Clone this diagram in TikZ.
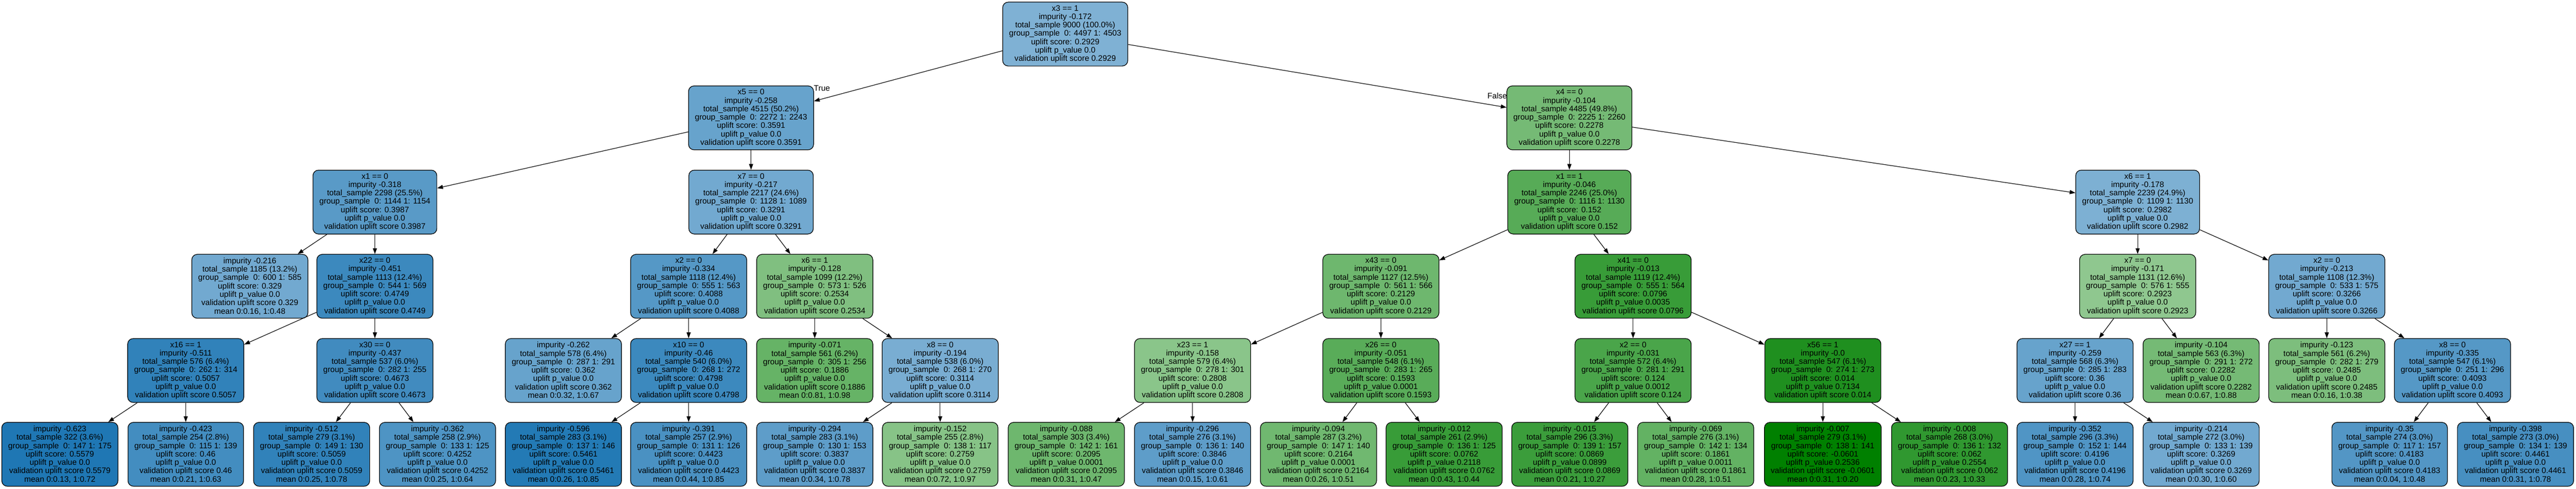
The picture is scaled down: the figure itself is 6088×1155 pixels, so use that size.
\documentclass[tikz,border=0pt]{standalone}
\usepackage{fontspec}
\setmainfont{Liberation Sans}
\usetikzlibrary{arrows.meta}
\definecolor{tb}{HTML}{1F77B4}
\definecolor{tg}{HTML}{008000}
\newcommand{\ITxt}[7]{#1\\impurity #2\\total\_sample #3\\group\_sample\ \ 0: #4 1: #5\\uplift score: #6\\uplift p\_value #7\\validation uplift score #6}
\newcommand{\LTxt}[7]{impurity #1\\total\_sample #2\\group\_sample\ \ 0: #3 1: #4\\uplift score: #5\\uplift p\_value #6\\validation uplift score #5\\mean #7}
\begin{document}
\begin{tikzpicture}[x=0.5pt,y=-0.5pt,
  tn/.style={draw=black,line width=0.75pt,rounded corners=6.5pt,align=center,
    font=\fontsize{9.45pt}{9.9pt}\selectfont,inner xsep=7.6pt,inner ysep=2pt,minimum height=75.5pt},
  nb/.style={tn,fill=tb!#1!white},
  ng/.style={tn,fill=tg!#1!white},
  conn/.style={line width=0.7pt,-{Triangle[length=6.8pt,width=4.8pt]}},
  lbl/.style={font=\fontsize{9.45pt}{9.9pt}\selectfont,inner sep=0pt}]
\fill[white] (0,0) rectangle (6088,1155);
\useasboundingbox (0,0) rectangle (6088,1155);
% level 0
\node[nb=57] (root) at (2517.5,80.5) {\ITxt{x3 == 1}{-0.172}{9000 (100.0\%)}{4497}{4503}{0.2929}{0.0}};
% level 1
\node[nb=68] (x5) at (1775,278.5) {\ITxt{x5 == 0}{-0.258}{4515 (50.2\%)}{2272}{2243}{0.3591}{0.0}};
\node[ng=54] (x4) at (3709,278.5) {\ITxt{x4 == 0}{-0.104}{4485 (49.8\%)}{2225}{2260}{0.2278}{0.0}};
% level 2
\node[nb=74] (x1a) at (886,477.5) {\ITxt{x1 == 0}{-0.318}{2298 (25.5\%)}{1144}{1154}{0.3987}{0.0}};
\node[nb=63] (x7a) at (1775,477.5) {\ITxt{x7 == 0}{-0.217}{2217 (24.6\%)}{1128}{1089}{0.3291}{0.0}};
\node[ng=66] (x1b) at (3709,477.5) {\ITxt{x1 == 1}{-0.046}{2246 (25.0\%)}{1116}{1130}{0.152}{0.0}};
\node[nb=58] (x6a) at (5052,477.5) {\ITxt{x6 == 1}{-0.178}{2239 (24.9\%)}{1109}{1130}{0.2982}{0.0}};
% level 3
\node[nb=63] (l216) at (590.5,676.5) {\LTxt{-0.216}{1185 (13.2\%)}{600}{585}{0.329}{0.0}{0:0.16, 1:0.48}};
\node[nb=87] (x22) at (886,676.5) {\ITxt{x22 == 0}{-0.451}{1113 (12.4\%)}{544}{569}{0.4749}{0.0}};
\node[nb=76] (x2a) at (1627.5,676.5) {\ITxt{x2 == 0}{-0.334}{1118 (12.4\%)}{555}{563}{0.4088}{0.0}};
\node[ng=50] (x6b) at (1925.5,676.5) {\ITxt{x6 == 1}{-0.128}{1099 (12.2\%)}{573}{526}{0.2534}{0.0}};
\node[ng=57] (x43) at (3263.5,676.5) {\ITxt{x43 == 0}{-0.091}{1127 (12.5\%)}{561}{566}{0.2129}{0.0}};
\node[ng=78] (x41) at (3859.5,676.5) {\ITxt{x41 == 0}{-0.013}{1119 (12.4\%)}{555}{564}{0.0796}{0.0035}};
\node[ng=44] (x7b) at (5052,676.5) {\ITxt{x7 == 0}{-0.171}{1131 (12.6\%)}{576}{555}{0.2923}{0.0}};
\node[nb=63] (x2b) at (5499,676.5) {\ITxt{x2 == 0}{-0.213}{1108 (12.3\%)}{533}{575}{0.3266}{0.0}};
% level 4
\node[nb=92] (x16) at (439,875.5) {\ITxt{x16 == 1}{-0.511}{576 (6.4\%)}{262}{314}{0.5057}{0.0}};
\node[nb=85] (x30) at (886,875.5) {\ITxt{x30 == 0}{-0.437}{537 (6.0\%)}{282}{255}{0.4673}{0.0}};
\node[nb=68] (l262) at (1331.5,875.5) {\LTxt{-0.262}{578 (6.4\%)}{287}{291}{0.362}{0.0}{0:0.32, 1:0.67}};
\node[nb=87] (x10) at (1627.5,875.5) {\ITxt{x10 == 0}{-0.46}{540 (6.0\%)}{268}{272}{0.4798}{0.0}};
\node[ng=60] (l071) at (1925.5,875.5) {\LTxt{-0.071}{561 (6.2\%)}{305}{256}{0.1886}{0.0}{0:0.81, 1:0.98}};
\node[nb=60] (x8a) at (2222,875.5) {\ITxt{x8 == 0}{-0.194}{538 (6.0\%)}{268}{270}{0.3114}{0.0}};
\node[ng=46] (x23) at (2818.5,875.5) {\ITxt{x23 == 1}{-0.158}{579 (6.4\%)}{278}{301}{0.2808}{0.0}};
\node[ng=65] (x26) at (3263.5,875.5) {\ITxt{x26 == 0}{-0.051}{548 (6.1\%)}{283}{265}{0.1593}{0.0001}};
\node[ng=71] (x2c) at (3859.5,875.5) {\ITxt{x2 == 0}{-0.031}{572 (6.4\%)}{281}{291}{0.124}{0.0012}};
\node[ng=88] (x56) at (4308,875.5) {\ITxt{x56 == 1}{-0.0}{547 (6.1\%)}{274}{273}{0.014}{0.7134}};
\node[nb=68] (x27) at (4904,875.5) {\ITxt{x27 == 1}{-0.259}{568 (6.3\%)}{285}{283}{0.36}{0.0}};
\node[ng=54] (l104) at (5202,875.5) {\LTxt{-0.104}{563 (6.3\%)}{291}{272}{0.2282}{0.0}{0:0.67, 1:0.88}};
\node[ng=51] (l123) at (5499,875.5) {\LTxt{-0.123}{561 (6.2\%)}{282}{279}{0.2485}{0.0}{0:0.16, 1:0.38}};
\node[nb=76] (x8b) at (5796,875.5) {\ITxt{x8 == 0}{-0.335}{547 (6.1\%)}{251}{296}{0.4093}{0.0}};
% level 5
\node[nb=100] (l623) at (141.5,1073.5) {\LTxt{-0.623}{322 (3.6\%)}{147}{175}{0.5579}{0.0}{0:0.13, 1:0.72}};
\node[nb=84] (l423) at (439,1073.5) {\LTxt{-0.423}{254 (2.8\%)}{115}{139}{0.46}{0.0}{0:0.21, 1:0.63}};
\node[nb=92] (l512) at (736.5,1073.5) {\LTxt{-0.512}{279 (3.1\%)}{149}{130}{0.5059}{0.0}{0:0.25, 1:0.78}};
\node[nb=79] (l362) at (1034,1073.5) {\LTxt{-0.362}{258 (2.9\%)}{133}{125}{0.4252}{0.0}{0:0.25, 1:0.64}};
\node[nb=98] (l596) at (1331.5,1073.5) {\LTxt{-0.596}{283 (3.1\%)}{137}{146}{0.5461}{0.0}{0:0.26, 1:0.85}};
\node[nb=81] (l391) at (1627.5,1073.5) {\LTxt{-0.391}{257 (2.9\%)}{131}{126}{0.4423}{0.0}{0:0.44, 1:0.85}};
\node[nb=72] (l294) at (1925.5,1073.5) {\LTxt{-0.294}{283 (3.1\%)}{130}{153}{0.3837}{0.0}{0:0.34, 1:0.78}};
\node[ng=47] (l152) at (2222,1073.5) {\LTxt{-0.152}{255 (2.8\%)}{138}{117}{0.2759}{0.0}{0:0.72, 1:0.97}};
\node[ng=57] (l088) at (2520,1073.5) {\LTxt{-0.088}{303 (3.4\%)}{142}{161}{0.2095}{0.0001}{0:0.31, 1:0.47}};
\node[nb=72] (l296) at (2818.5,1073.5) {\LTxt{-0.296}{276 (3.1\%)}{136}{140}{0.3846}{0.0}{0:0.15, 1:0.61}};
\node[ng=56] (l094) at (3116,1073.5) {\LTxt{-0.094}{287 (3.2\%)}{147}{140}{0.2164}{0.0001}{0:0.26, 1:0.51}};
\node[ng=78] (l012) at (3413,1073.5) {\LTxt{-0.012}{261 (2.9\%)}{136}{125}{0.0762}{0.2118}{0:0.43, 1:0.44}};
\node[ng=77] (l015) at (3710,1073.5) {\LTxt{-0.015}{296 (3.3\%)}{139}{157}{0.0869}{0.0899}{0:0.21, 1:0.27}};
\node[ng=61] (l069) at (4007.5,1073.5) {\LTxt{-0.069}{276 (3.1\%)}{142}{134}{0.1861}{0.0011}{0:0.28, 1:0.51}};
\node[ng=100] (l007) at (4308,1073.5) {\LTxt{-0.007}{279 (3.1\%)}{138}{141}{-0.0601}{0.2536}{0:0.31, 1:0.20}};
\node[ng=81] (l008) at (4607.5,1073.5) {\LTxt{-0.008}{268 (3.0\%)}{136}{132}{0.062}{0.2554}{0:0.23, 1:0.33}};
\node[nb=78] (l352) at (4904,1073.5) {\LTxt{-0.352}{296 (3.3\%)}{152}{144}{0.4196}{0.0}{0:0.28, 1:0.74}};
\node[nb=63] (l214) at (5202,1073.5) {\LTxt{-0.214}{272 (3.0\%)}{133}{139}{0.3269}{0.0}{0:0.30, 1:0.60}};
\node[nb=77] (l350) at (5647.5,1073.5) {\LTxt{-0.35}{274 (3.0\%)}{117}{157}{0.4183}{0.0}{0:0.04, 1:0.48}};
\node[nb=82] (l398) at (5945,1073.5) {\LTxt{-0.398}{273 (3.0\%)}{134}{139}{0.4461}{0.0}{0:0.31, 1:0.78}};
% labels
\node[lbl,anchor=west] (tl) at (1923,209) {True};
\node[lbl,anchor=east] (fl) at (3562,226) {False};
% edges
\draw[conn] (root) -- (x5);
\draw[conn] (root) -- (x4);
\draw[conn] (x5) -- (x1a);
\draw[conn] (x5) -- (x7a);
\draw[conn] (x1a) -- (l216);
\draw[conn] (x1a) -- (x22);
\draw[conn] (x22) -- (x16);
\draw[conn] (x22) -- (x30);
\draw[conn] (x16) -- (l623);
\draw[conn] (x16) -- (l423);
\draw[conn] (x30) -- (l512);
\draw[conn] (x30) -- (l362);
\draw[conn] (x7a) -- (x2a);
\draw[conn] (x7a) -- (x6b);
\draw[conn] (x2a) -- (l262);
\draw[conn] (x2a) -- (x10);
\draw[conn] (x10) -- (l596);
\draw[conn] (x10) -- (l391);
\draw[conn] (x6b) -- (l071);
\draw[conn] (x6b) -- (x8a);
\draw[conn] (x8a) -- (l294);
\draw[conn] (x8a) -- (l152);
\draw[conn] (x4) -- (x1b);
\draw[conn] (x4) -- (x6a);
\draw[conn] (x1b) -- (x43);
\draw[conn] (x1b) -- (x41);
\draw[conn] (x43) -- (x23);
\draw[conn] (x43) -- (x26);
\draw[conn] (x23) -- (l088);
\draw[conn] (x23) -- (l296);
\draw[conn] (x26) -- (l094);
\draw[conn] (x26) -- (l012);
\draw[conn] (x41) -- (x2c);
\draw[conn] (x41) -- (x56);
\draw[conn] (x2c) -- (l015);
\draw[conn] (x2c) -- (l069);
\draw[conn] (x56) -- (l007);
\draw[conn] (x56) -- (l008);
\draw[conn] (x6a) -- (x7b);
\draw[conn] (x6a) -- (x2b);
\draw[conn] (x7b) -- (x27);
\draw[conn] (x7b) -- (l104);
\draw[conn] (x27) -- (l352);
\draw[conn] (x27) -- (l214);
\draw[conn] (x2b) -- (l123);
\draw[conn] (x2b) -- (x8b);
\draw[conn] (x8b) -- (l350);
\draw[conn] (x8b) -- (l398);
\end{tikzpicture}
\end{document}
